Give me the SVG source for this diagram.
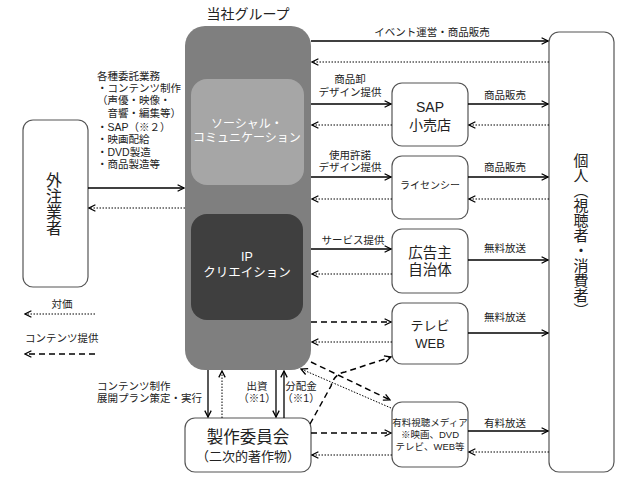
<svg xmlns="http://www.w3.org/2000/svg" width="642" height="482" viewBox="0 0 642 482">
<style>
text{font-family:"Liberation Sans","Noto Sans CJK JP",sans-serif;fill:#222}
.box{fill:#fff;stroke:#555;stroke-width:1.2}
.s{stroke:#000;stroke-width:1.3;fill:none}
.dt{stroke:#000;stroke-width:1;stroke-dasharray:1.5,1.5;fill:none}
.ds{stroke:#000;stroke-width:1.5;stroke-dasharray:6,4;fill:none}
.lb{font-size:10.5px;text-anchor:middle}
.vt{writing-mode:vertical-rl;text-anchor:middle;font-family:"Noto Sans CJK JP",sans-serif}
.w{fill:#fff}
</style>
<defs>
<marker id="a" viewBox="0 0 10 10" refX="9" refY="5" markerWidth="8" markerHeight="8" markerUnits="userSpaceOnUse" orient="auto">
<path d="M1,1 L9,5 L1,9" fill="none" stroke="#000" stroke-width="1.6"/>
</marker>
</defs>

<text x="248" y="19" font-size="14" text-anchor="middle">当社グループ</text>

<g id="group">
<rect x="185" y="26" width="126" height="344" rx="20" fill="#7f7f7f"/>
</g>
<g id="social">
<rect x="191" y="79" width="113" height="106" rx="16" fill="#a6a6a6"/>
<text class="w" x="247" y="128" font-size="12" text-anchor="middle"><tspan x="247">ソーシャル・</tspan><tspan x="247" dy="14">コミュニケーション</tspan></text>
</g>
<g id="ip">
<rect x="191" y="214" width="112" height="106" rx="16" fill="#3f3f3f"/>
<text class="w" x="247" y="261" font-size="12.5" text-anchor="middle"><tspan x="247">IP</tspan><tspan x="247" dy="16">クリエイション</tspan></text>
</g>

<g id="gaichu">
<rect class="box" x="23" y="120" width="65" height="167" rx="10"/>
<text class="vt" x="54" y="204" font-size="16">外注業者</text>
</g>

<g id="kojin">
<rect class="box" x="549" y="32" width="65" height="440" rx="10"/>
<text class="vt" x="581" y="235" font-size="15">個人（視聴者・消費者）</text>
</g>

<g id="sap">
<rect class="box" x="392" y="83" width="76" height="63" rx="10"/>
<text x="430" y="112" font-size="14" text-anchor="middle"><tspan x="430">SAP</tspan><tspan x="430" dy="18">小売店</tspan></text>
</g>
<g id="licensee">
<rect class="box" x="392" y="156" width="76" height="63" rx="10"/>
<text x="430" y="189" font-size="10" text-anchor="middle">ライセンシー</text>
</g>
<g id="kokoku">
<rect class="box" x="392" y="229" width="76" height="64" rx="10"/>
<text x="430" y="258" font-size="14.5" text-anchor="middle"><tspan x="430">広告主</tspan><tspan x="430" dy="17">自治体</tspan></text>
</g>
<g id="tv">
<rect class="box" x="392" y="303" width="76" height="61" rx="10"/>
<text x="430" y="330" font-size="13" text-anchor="middle"><tspan x="430">テレビ</tspan><tspan x="430" dy="18">WEB</tspan></text>
</g>
<g id="yuryo">
<rect class="box" x="392" y="402" width="76" height="65" rx="10"/>
<text x="430" y="426" font-size="9.5" text-anchor="middle"><tspan x="430">有料視聴メディア</tspan><tspan x="430" dy="12">※映画、DVD</tspan><tspan x="430" dy="12">テレビ、WEB等</tspan></text>
</g>
<g id="seisaku">
<rect class="box" x="185" y="418" width="126" height="54" rx="10"/>
<text x="248" y="443" font-size="16.5" text-anchor="middle">製作委員会</text>
<text x="248" y="461" font-size="13" text-anchor="middle">（二次的著作物）</text>
</g>

<g id="labels" font-size="10.5">
<text x="97" y="80"><tspan x="97">各種委託業務</tspan><tspan x="97" dy="12">・コンテンツ制作</tspan><tspan x="97" dy="12">（声優・映像・</tspan><tspan x="97" dy="13">　音響・編集等）</tspan><tspan x="97" dy="14">・SAP（※２）</tspan><tspan x="97" dy="12">・映画配給</tspan><tspan x="97" dy="13">・DVD製造</tspan><tspan x="97" dy="12">・商品製造等</tspan></text>
<text x="62" y="308" class="lb">対価</text>
<text x="25" y="342" font-size="10.5">コンテンツ提供</text>
<text x="97" y="390"><tspan x="97">コンテンツ制作</tspan><tspan x="97" dy="12">展開プラン策定・実行</tspan></text>
<text x="257" y="390" class="lb"><tspan x="257">出資</tspan><tspan x="257" dy="12">（※1）</tspan></text>
<text x="301" y="390" class="lb"><tspan x="301">分配金</tspan><tspan x="301" dy="12">（※1）</tspan></text>
<text x="432" y="36" class="lb">イベント運営・商品販売</text>
<text x="350" y="83" class="lb"><tspan x="350">商品卸</tspan><tspan x="350" dy="13">デザイン提供</tspan></text>
<text x="350" y="159" class="lb"><tspan x="350">使用許諾</tspan><tspan x="350" dy="12">デザイン提供</tspan></text>
<text x="353" y="244" class="lb">サービス提供</text>
<text x="505" y="99" class="lb">商品販売</text>
<text x="505" y="171" class="lb">商品販売</text>
<text x="505" y="252" class="lb">無料放送</text>
<text x="505" y="321" class="lb">無料放送</text>
<text x="505" y="427" class="lb">有料放送</text>
</g>

<g id="connectors">
<line class="s" x1="311" y1="41" x2="548" y2="41" marker-end="url(#a)"/>
<line class="dt" x1="549" y1="62" x2="312" y2="62" marker-end="url(#a)"/>
<line class="s" x1="311" y1="104" x2="391" y2="104" marker-end="url(#a)"/>
<line class="dt" x1="392" y1="125" x2="312" y2="125" marker-end="url(#a)"/>
<line class="s" x1="468" y1="104" x2="548" y2="104" marker-end="url(#a)"/>
<line class="dt" x1="549" y1="125" x2="469" y2="125" marker-end="url(#a)"/>
<line class="s" x1="311" y1="177" x2="391" y2="177" marker-end="url(#a)"/>
<line class="dt" x1="392" y1="199" x2="312" y2="199" marker-end="url(#a)"/>
<line class="s" x1="468" y1="177" x2="548" y2="177" marker-end="url(#a)"/>
<line class="dt" x1="549" y1="199" x2="469" y2="199" marker-end="url(#a)"/>
<line class="s" x1="311" y1="249" x2="391" y2="249" marker-end="url(#a)"/>
<line class="dt" x1="392" y1="274" x2="312" y2="274" marker-end="url(#a)"/>
<line class="s" x1="468" y1="260" x2="548" y2="260" marker-end="url(#a)"/>
<line class="ds" x1="311" y1="322" x2="391" y2="322" marker-end="url(#a)"/>
<line class="dt" x1="392" y1="342" x2="312" y2="342" marker-end="url(#a)"/>
<line class="s" x1="468" y1="333" x2="548" y2="333" marker-end="url(#a)"/>
<line class="ds" x1="311" y1="433" x2="391" y2="433" marker-end="url(#a)"/>
<line class="dt" x1="392" y1="455" x2="312" y2="455" marker-end="url(#a)"/>
<line class="s" x1="468" y1="431" x2="548" y2="431" marker-end="url(#a)"/>
<line class="dt" x1="549" y1="452" x2="469" y2="452" marker-end="url(#a)"/>
<line class="ds" x1="311" y1="362" x2="390" y2="400" marker-end="url(#a)"/>
<line class="dt" x1="391" y1="408" x2="301" y2="369" marker-end="url(#a)"/>
<path class="ds" d="M310,424 L331,386 Q334,374 345,372 L391,357" marker-end="url(#a)"/>
<line class="s" x1="88" y1="188" x2="184" y2="188" marker-end="url(#a)"/>
<line class="dt" x1="185" y1="208" x2="89" y2="208" marker-end="url(#a)"/>
<line class="s" x1="208" y1="370" x2="208" y2="417" marker-end="url(#a)"/>
<line class="dt" x1="222" y1="418" x2="222" y2="371" marker-end="url(#a)"/>
<line class="s" x1="276" y1="370" x2="276" y2="417" marker-end="url(#a)"/>
<line class="s" x1="284" y1="418" x2="284" y2="371" marker-end="url(#a)"/>
<line class="dt" x1="95" y1="314" x2="25" y2="314" marker-end="url(#a)"/>
<line class="ds" x1="95" y1="354" x2="25" y2="354" marker-end="url(#a)"/>
</g>
</svg>
